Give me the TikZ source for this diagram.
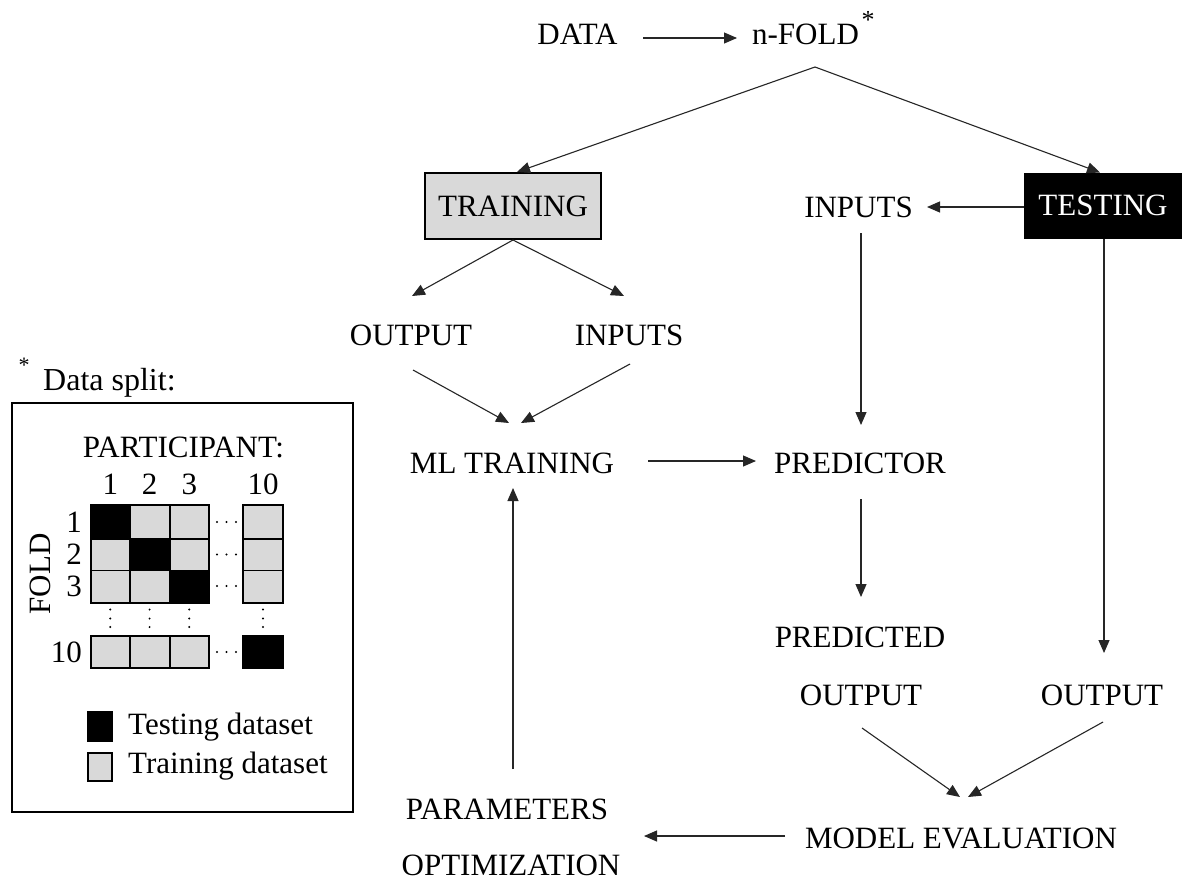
\documentclass[tikz,border=0pt]{standalone}
\usepackage{fontspec}
\setmainfont{Liberation Serif}
\usetikzlibrary{arrows.meta,calc}
\definecolor{boxgray}{HTML}{D9D9D9}
\tikzset{
  lbl/.style={inner sep=0pt, font=\fontsize{31}{37}\selectfont, text depth=0pt},
  smalllbl/.style={inner sep=0pt, font=\fontsize{31}{36}\selectfont},
  arr/.style={line width=1.1pt, draw=black!85, -{Triangle[length=13pt,width=11pt]}},
  cellg/.style={draw=black, line width=1.8pt, fill=boxgray},
  cellb/.style={draw=black, line width=1.8pt, fill=black},
  dotmark/.style={fill=black},
}
\begin{document}
\begin{tikzpicture}[x=1pt,y=-1pt]
\useasboundingbox (0,0) rectangle (1182,881);
\fill[white] (0,0) rectangle (1182,881);

% ---------- main flow ----------
\node[lbl] (data) at (577.5,34) {DATA};
\node[lbl] (nfold) at (805.5,34) {n-FOLD};
\node[inner sep=0pt, font=\fontsize{26}{30}\selectfont, anchor=base] (nfoldstar) at (868,28) {*};
\coordinate (split) at ($(nfold.center)+(9.5,33)$);

\node[lbl, draw=black, line width=2pt, fill=boxgray, minimum width=176pt, minimum height=66pt] (training) at (513,206) {TRAINING};
\node[lbl, draw=black, line width=1pt, fill=black, text=white, minimum width=158pt, minimum height=65pt] (testing) at (1103,205.5) {TESTING};
\node[lbl] (inR) at (858.5,207) {INPUTS};

\node[lbl] (outL) at (411,335) {OUTPUT};
\node[lbl] (inL) at (629,335) {INPUTS};

\node[lbl] (ml) at (512,463) {ML TRAINING};
\node[lbl] (pred) at (860,463) {PREDICTOR};

\node[lbl] (predA) at (860,637) {PREDICTED};
\node[lbl] (predB) at (861,695) {OUTPUT};
\node[lbl] (outR) at (1102,695) {OUTPUT};

\node[lbl] (me) at (961,838) {MODEL EVALUATION};
\node[lbl] (param1) at (507,809) {PARAMETERS};
\node[lbl] (param2) at (511,865) {OPTIMIZATION};

% connectors
\draw[arr] ($(data.center)+(65.5,4)$) -- ($(nfold.center)+(-68.5,4)$);
\draw[arr] (split) -- ($(training.north)+(4,0)$);
\draw[arr] (split) -- ($(testing.north)+(-3,0)$);
\draw[arr] ($(testing.west)+(0,1.5)$) -- ($(inR.center)+(68.5,0)$);
\draw[arr] (training.south) -- ($(outL.center)+(1,-39)$);
\draw[arr] (training.south) -- ($(inL.center)+(-5,-39)$);
\draw[arr] ($(outL.center)+(2,35)$) -- ($(ml.center)+(-3,-40)$);
\draw[arr] ($(inL.center)+(1,29)$) -- ($(ml.center)+(9,-40)$);
\draw[arr] ($(inR.center)+(2.5,26)$) -- ($(pred.center)+(1,-38)$);
\draw[arr] ($(ml.center)+(136,-2)$) -- ($(pred.center)+(-104,-2)$);
\draw[arr] ($(pred.center)+(1,36)$) -- ($(predA.center)+(1,-40)$);
\draw[arr] ($(testing.south)+(1,0)$) -- ($(outR.center)+(2,-42)$);
\draw[arr] ($(predB.center)+(1,33)$) -- ($(me.center)+(-1,-41)$);
\draw[arr] ($(outR.center)+(1,27)$) -- ($(me.center)+(7,-41)$);
\draw[arr] ($(me.center)+(-176,-2)$) -- ($(param1.center)+(137,27)$);
\draw[arr] ($(param1.center)+(6,-40)$) -- ($(ml.center)+(1,25)$);

% ---------- data split panel ----------
\node[inner sep=0pt, font=\fontsize{22}{24}\selectfont, anchor=base] (splitstar) at (24,372) {*};
\node[inner sep=0pt, font=\fontsize{32}{38}\selectfont, anchor=base west] (splittitle) at (43,390) {Data split:};
\draw[line width=2pt] (12,403) rectangle (353,812);

\node[smalllbl] (participant) at (183.5,447) {PARTICIPANT:};
\foreach \cx/\t in {110.3/1,149.6/2,189.3/3,263/10}
  \node[smalllbl] at (\cx,484) {\t};
\foreach \cy/\t in {522/1,554.5/2,586/3,652/10}
  \node[smalllbl, anchor=east] at (82,\cy) {\t};
\node[smalllbl, rotate=90] (foldlbl) at (40,574) {FOLD};

% grid cells: rows 1-3 and row 10
\def\ca{91}\def\cb{130.3}\def\cc{169.6}\def\cd{209.3}
\def\ce{243}\def\cf{283.3}
\def\ra{505}\def\rb{539}\def\rc{570.5}\def\rd{602.7}
\def\re{636}\def\rf{668.3}
% row 1
\filldraw[cellb] (\ca,\ra) rectangle (\cb,\rb);
\filldraw[cellg] (\cb,\ra) rectangle (\cc,\rb);
\filldraw[cellg] (\cc,\ra) rectangle (\cd,\rb);
\filldraw[cellg] (\ce,\ra) rectangle (\cf,\rb);
% row 2
\filldraw[cellg] (\ca,\rb) rectangle (\cb,\rc);
\filldraw[cellb] (\cb,\rb) rectangle (\cc,\rc);
\filldraw[cellg] (\cc,\rb) rectangle (\cd,\rc);
\filldraw[cellg] (\ce,\rb) rectangle (\cf,\rc);
% row 3
\filldraw[cellg] (\ca,\rc) rectangle (\cb,\rd);
\filldraw[cellg] (\cb,\rc) rectangle (\cc,\rd);
\filldraw[cellb] (\cc,\rc) rectangle (\cd,\rd);
\filldraw[cellg] (\ce,\rc) rectangle (\cf,\rd);
% row 10
\filldraw[cellg] (\ca,\re) rectangle (\cb,\rf);
\filldraw[cellg] (\cb,\re) rectangle (\cc,\rf);
\filldraw[cellg] (\cc,\re) rectangle (\cd,\rf);
\filldraw[cellb] (\ce,\re) rectangle (\cf,\rf);

% horizontal ellipses between column 3 and column 10
\foreach \cy in {522,554.5,586,652}
  \foreach \dx in {217,226.5,236}
    \fill[dotmark] (\dx,\cy) circle (1.1pt);
% vertical ellipses between row 3 and row 10
\foreach \cx in {110.3,149.6,189.3,263}
  \foreach \dy in {609.5,618.5,627}
    \fill[dotmark] (\cx,\dy) circle (1.1pt);

% legend
\filldraw[draw=black, line width=1.5pt, fill=black] (88,712) rectangle (112,741);
\node[smalllbl, anchor=base west] (legtest) at (128,734) {Testing dataset};
\filldraw[draw=black, line width=1.5pt, fill=boxgray] (88,753) rectangle (112,781);
\node[smalllbl, anchor=base west] (legtrain) at (128,773) {Training dataset};
\end{tikzpicture}
\end{document}
